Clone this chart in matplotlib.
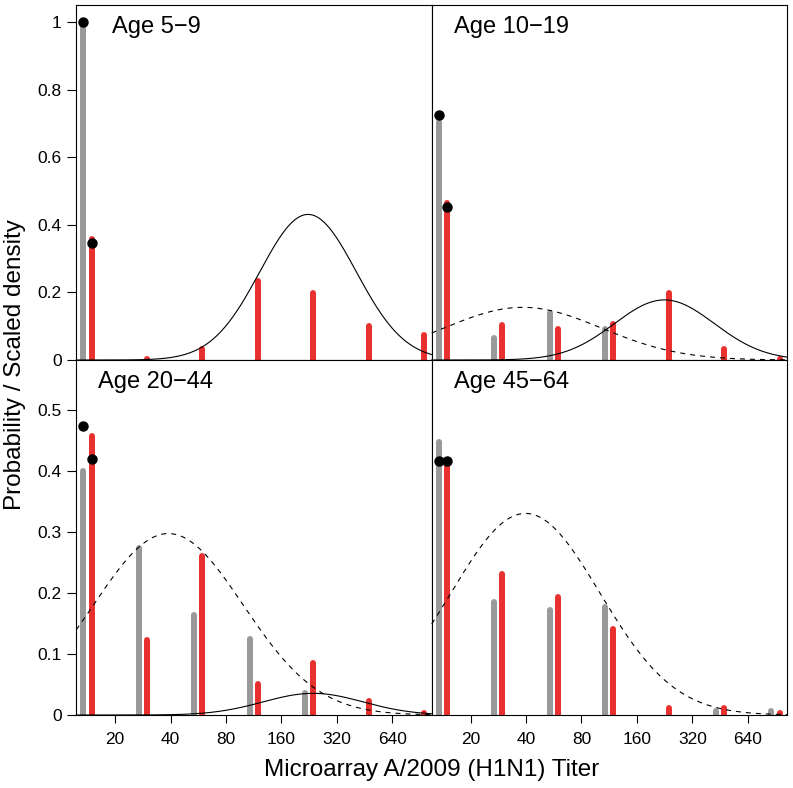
import numpy as np
import matplotlib
matplotlib.use('Agg')
import matplotlib.pyplot as plt

plt.rcParams['font.family'] = ['Liberation Sans', 'DejaVu Sans']

# titer bins (group index 1..7), tick labels at bin boundaries
groups = np.arange(1, 8)
tick_pos = np.arange(1.5, 7.0, 1.0)
tick_labels = ['20', '40', '80', '160', '320', '640']

panel_titles = ['Age 5\u22129', 'Age 10\u221219', 'Age 20\u221244', 'Age 45\u221264']

# gray bars (first series) and red bars (second series), per panel
gray_vals = [
    [1.00, 0, 0, 0, 0, 0, 0],
    [0.705, 0.066, 0.140, 0.092, 0, 0, 0],
    [0.400, 0.274, 0.163, 0.124, 0.036, 0, 0],
    [0.447, 0.185, 0.172, 0.176, 0, 0.007, 0.007],
]
red_vals = [
    [0.358, 0.004, 0.034, 0.233, 0.198, 0.100, 0.073],
    [0.465, 0.105, 0.092, 0.108, 0.197, 0.033, 0.004],
    [0.456, 0.122, 0.261, 0.050, 0.085, 0.023, 0.003],
    [0.415, 0.231, 0.193, 0.140, 0.012, 0.012, 0.003],
]

# black dots on the first bin (gray position, red position)
dot_gray = [1.000, 0.725, 0.473, 0.415]
dot_red = [0.345, 0.454, 0.419, 0.415]

# scaled density curves: (center, sd, peak) in bin units; None = not drawn
solid_curve = [(4.98, 0.87, 0.431), (4.995, 0.90, 0.178), (5.07, 0.90, 0.0355), None]
dashed_curve = [None, (2.44, 1.42, 0.156), (2.46, 1.35, 0.297), (2.49, 1.34, 0.330)]

ylims = [1.051, 1.051, 0.581, 0.581]
yticks_top = [0, 0.2, 0.4, 0.6, 0.8, 1]
yticks_bot = [0, 0.1, 0.2, 0.3, 0.4, 0.5]

GRAY = '#999999'
RED = '#e8302e'
off = 0.075

fig = plt.figure(figsize=(7.93, 7.88), dpi=100)
x0, xm, x1 = 0.0962, 0.5444, 0.9928
y0, ym, y1 = 0.0926, 0.5431, 0.9937
rects = [
    [x0, ym, xm - x0, y1 - ym],
    [xm, ym, x1 - xm, y1 - ym],
    [x0, y0, xm - x0, ym - y0],
    [xm, y0, x1 - xm, ym - y0],
]
title_x = [0.0996, 0.0636, 0.062, 0.0636]

for i, rect in enumerate(rects):
    ax = fig.add_axes(rect)
    xlim = (0.80, 7.21)
    ax.set_xlim(*xlim)
    ax.set_ylim(0, ylims[i])

    g = np.array(gray_vals[i])
    r = np.array(red_vals[i])
    gm = g > 0
    rm = r > 0
    ax.vlines(groups[gm] - off, 0, g[gm], color=GRAY, lw=4.3, capstyle='round', zorder=2)
    ax.vlines(groups[rm] + off, 0, r[rm], color=RED, lw=4.3, capstyle='round', zorder=2)

    xs = np.linspace(xlim[0], xlim[1], 400)
    if solid_curve[i] is not None:
        mu, sd, pk = solid_curve[i]
        ax.plot(xs, pk * np.exp(-0.5 * ((xs - mu) / sd) ** 2), color='black', lw=0.8,
                zorder=3, clip_on=False)
    if dashed_curve[i] is not None:
        mu, sd, pk = dashed_curve[i]
        ax.plot(xs, pk * np.exp(-0.5 * ((xs - mu) / sd) ** 2), color='black', lw=0.8,
                ls=(0, (4.5, 4.5)), zorder=3, clip_on=False)

    ax.plot([groups[0] - off, groups[0] + off], [dot_gray[i], dot_red[i]], 'o',
            color='black', ms=6.5, zorder=4, clip_on=False)

    ax.text(title_x[i], 0.938, panel_titles[i], transform=ax.transAxes,
            fontsize=17, ha='left', va='center')

    for s in ax.spines.values():
        s.set_linewidth(0.8)

    # y axis only on left panels
    if i in (0, 2):
        ax.set_yticks(yticks_top if i == 0 else yticks_bot)
        ax.set_yticklabels([('%g' % v) for v in (yticks_top if i == 0 else yticks_bot)])
        ax.tick_params(axis='y', direction='out', length=6.5, width=0.8, pad=4,
                       labelsize=12.5)
    else:
        ax.set_yticks([])
    # x axis only on bottom panels
    if i in (2, 3):
        ax.set_xticks(tick_pos)
        ax.set_xticklabels(tick_labels)
        ax.tick_params(axis='x', direction='out', length=6, width=0.8, pad=6,
                       labelsize=12.5)
    else:
        ax.set_xticks([])

fig.text(0.019, 0.5368, 'Probability / Scaled density', rotation=90, fontsize=17.5,
         ha='center', va='center')
fig.text(xm, 0.0228, 'Microarray A/2009 (H1N1) Titer', fontsize=17.5,
         ha='center', va='center')

fig.savefig('out.png', dpi=100)
